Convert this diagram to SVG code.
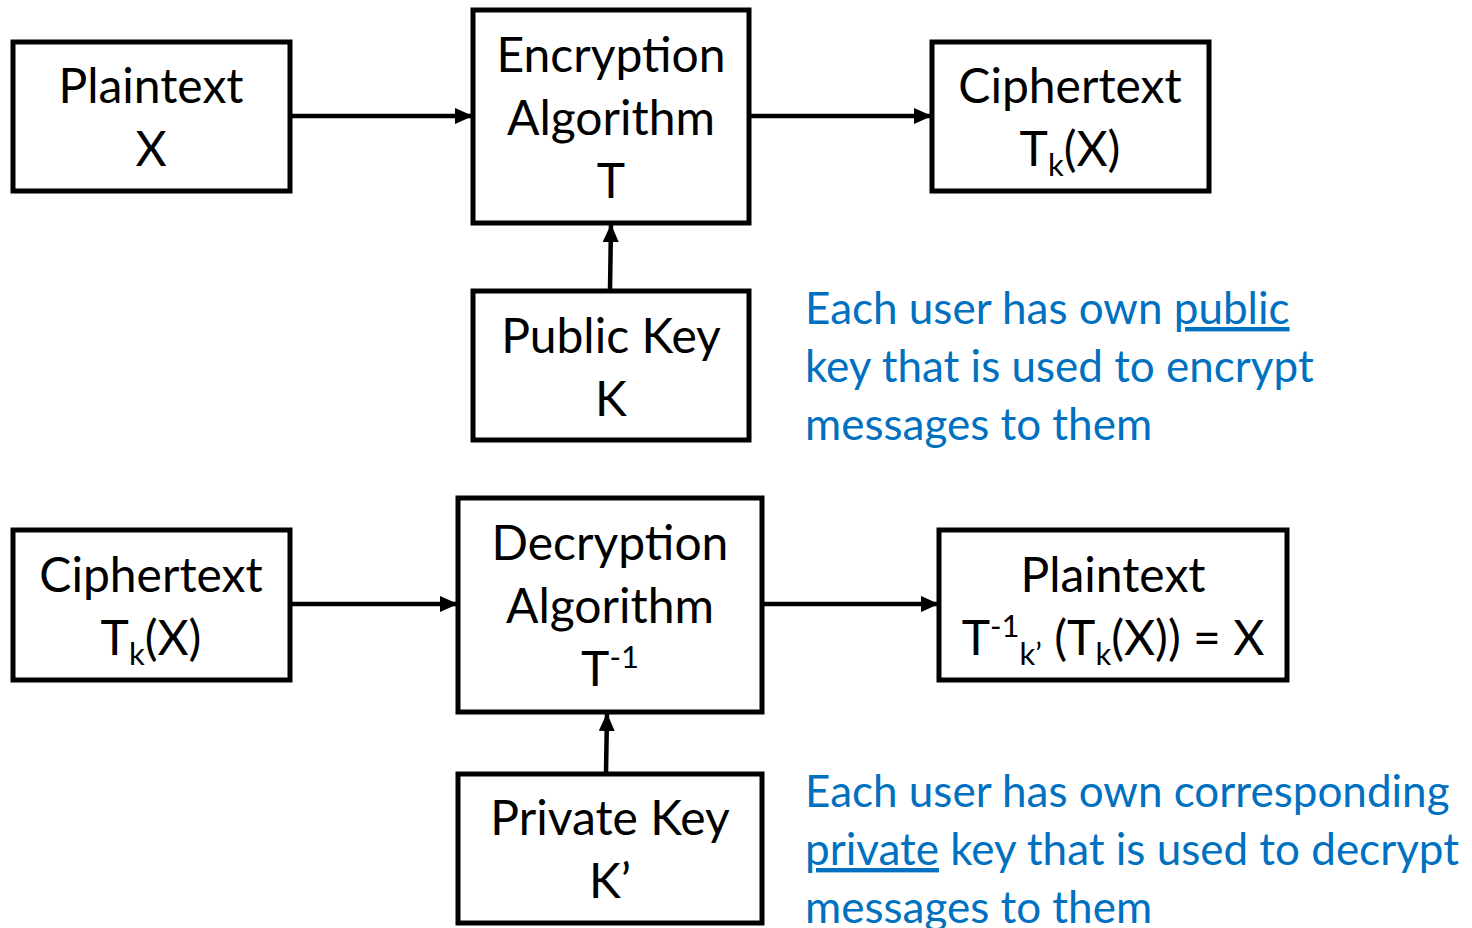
<svg xmlns="http://www.w3.org/2000/svg" width="1472" height="928" viewBox="0 0 1472 928">
<style>
.box{fill:#fff;stroke:#000;stroke-width:5}
.t{font-family:Lato,"Open Sans","Liberation Sans",sans-serif;font-size:48px;fill:#000;text-anchor:middle}
.sub{font-size:31px}
.b{font-family:Lato,"Open Sans","Liberation Sans",sans-serif;font-size:44px;fill:#0070C0}
.c{stroke:#000;stroke-width:4.5;fill:none}
</style>
<defs>
<marker id="ah" markerUnits="userSpaceOnUse" markerWidth="18" markerHeight="16" refX="18" refY="8" orient="auto">
<path d="M0,0 L18,8 L0,16 Z" fill="#000"/>
</marker>
</defs>
<rect width="1472" height="928" fill="#fff"/>
<g id="connectors">
<line class="c" x1="290" y1="116" x2="473" y2="116" marker-end="url(#ah)"/>
<line class="c" x1="749" y1="116" x2="932" y2="116" marker-end="url(#ah)"/>
<line class="c" x1="610" y1="291" x2="611" y2="224" marker-end="url(#ah)"/>
<line class="c" x1="290" y1="604" x2="458" y2="604" marker-end="url(#ah)"/>
<line class="c" x1="762" y1="604" x2="939" y2="604" marker-end="url(#ah)"/>
<line class="c" x1="606" y1="774" x2="607" y2="713" marker-end="url(#ah)"/>
</g>
<g id="plaintext-x">
<rect class="box" x="13" y="42" width="277" height="149"/>
<text class="t" x="151" y="103">Plaintext</text>
<text class="t" x="151" y="166">X</text>
</g>
<g id="encryption">
<rect class="box" x="473" y="10" width="276" height="213"/>
<text class="t" x="611" y="72">Encryption</text>
<text class="t" x="611" y="135">Algorithm</text>
<text class="t" x="611" y="198">T</text>
</g>
<g id="ciphertext-top">
<rect class="box" x="932" y="42" width="277" height="149"/>
<text class="t" x="1070" y="103">Ciphertext</text>
<text class="t" x="1070" y="166">T<tspan class="sub" dy="10">k</tspan><tspan dy="-10">(X)</tspan></text>
</g>
<g id="public-key">
<rect class="box" x="473" y="291" width="276" height="149"/>
<text class="t" x="611" y="353">Public Key</text>
<text class="t" x="611" y="416">K</text>
</g>
<g id="ciphertext-bottom">
<rect class="box" x="13" y="530" width="277" height="150"/>
<text class="t" x="151" y="592">Ciphertext</text>
<text class="t" x="151" y="655">T<tspan class="sub" dy="10">k</tspan><tspan dy="-10">(X)</tspan></text>
</g>
<g id="decryption">
<rect class="box" x="458" y="498" width="304" height="214"/>
<text class="t" x="610" y="560">Decryption</text>
<text class="t" x="610" y="623">Algorithm</text>
<text class="t" x="610" y="686">T<tspan class="sub" dy="-18">-1</tspan></text>
</g>
<g id="plaintext-bottom">
<rect class="box" x="939" y="530" width="348" height="150"/>
<text class="t" x="1113" y="592">Plaintext</text>
<text class="t" x="1113" y="655">T<tspan class="sub" dy="-18">-1</tspan><tspan class="sub" dy="28">k’</tspan><tspan dy="-10"> (T</tspan><tspan class="sub" dy="10">k</tspan><tspan dy="-10">(X)) = X</tspan></text>
</g>
<g id="private-key">
<rect class="box" x="458" y="774" width="304" height="149"/>
<text class="t" x="610" y="835">Private Key</text>
<text class="t" x="610" y="898">K’</text>
</g>
<g id="note-public">
<text class="b" x="805" y="324">Each user has own <tspan text-decoration="underline">public</tspan></text>
<text class="b" x="805" y="382">key that is used to encrypt</text>
<text class="b" x="805" y="440">messages to them</text>
</g>
<g id="note-private">
<text class="b" x="805" y="807">Each user has own corresponding</text>
<text class="b" x="805" y="865"><tspan text-decoration="underline">private</tspan> key that is used to decrypt</text>
<text class="b" x="805" y="923">messages to them</text>
</g>
</svg>
